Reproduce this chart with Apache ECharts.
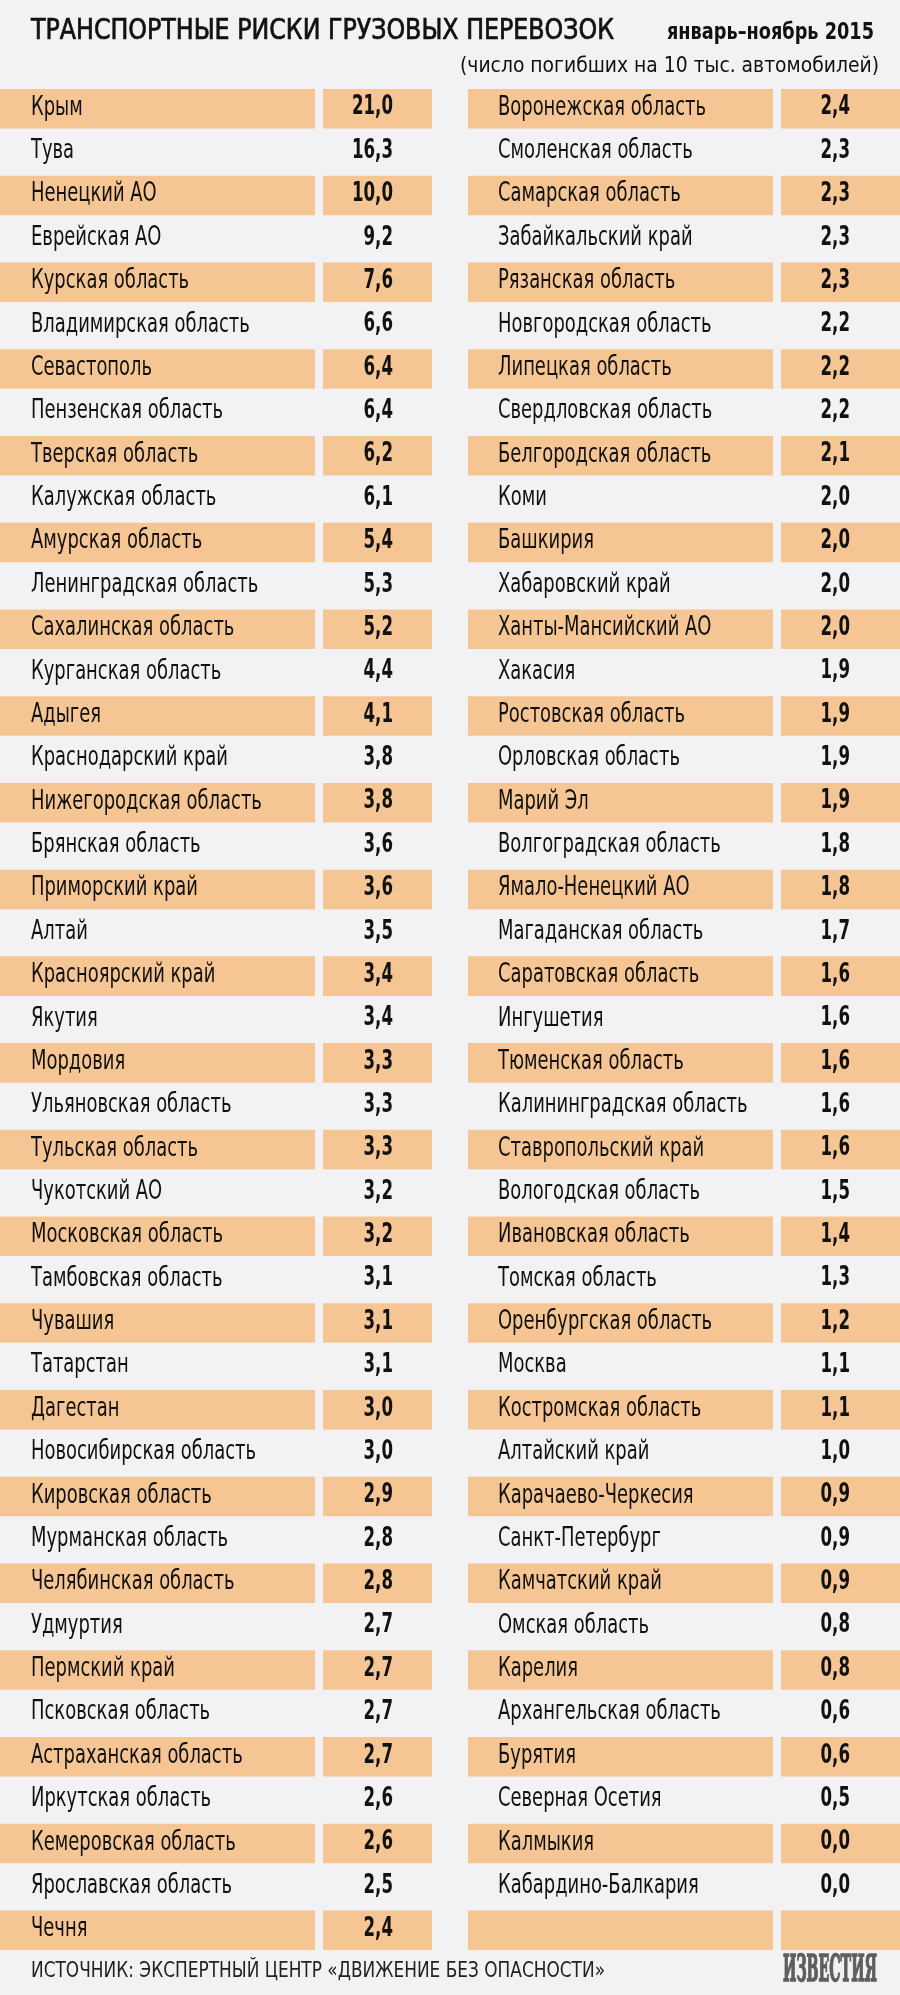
<!DOCTYPE html>
<html><head><meta charset="utf-8">
<script src="https://cdn.jsdelivr.net/npm/echarts@6/dist/echarts.min.js"></script>
<style>html,body{margin:0;padding:0;background:#f2f2f4}#c{width:900px;height:1995px}</style>
</head><body><div id="c"></div>
<script>
const leftNames = ['Крым','Тува','Ненецкий АО','Еврейская АО','Курская область','Владимирская область','Севастополь','Пензенская область','Тверская область','Калужская область','Амурская область','Ленинградская область','Сахалинская область','Курганская область','Адыгея','Краснодарский край','Нижегородская область','Брянская область','Приморский край','Алтай','Красноярский край','Якутия','Мордовия','Ульяновская область','Тульская область','Чукотский АО','Московская область','Тамбовская область','Чувашия','Татарстан','Дагестан','Новосибирская область','Кировская область','Мурманская область','Челябинская область','Удмуртия','Пермский край','Псковская область','Астраханская область','Иркутская область','Кемеровская область','Ярославская область','Чечня'];
const leftValues = [21.0,16.3,10.0,9.2,7.6,6.6,6.4,6.4,6.2,6.1,5.4,5.3,5.2,4.4,4.1,3.8,3.8,3.6,3.6,3.5,3.4,3.4,3.3,3.3,3.3,3.2,3.2,3.1,3.1,3.1,3.0,3.0,2.9,2.8,2.8,2.7,2.7,2.7,2.7,2.6,2.6,2.5,2.4];
const rightNames = ['Воронежская область','Смоленская область','Самарская область','Забайкальский край','Рязанская область','Новгородская область','Липецкая область','Свердловская область','Белгородская область','Коми','Башкирия','Хабаровский край','Ханты-Мансийский АО','Хакасия','Ростовская область','Орловская область','Марий Эл','Волгоградская область','Ямало-Ненецкий АО','Магаданская область','Саратовская область','Ингушетия','Тюменская область','Калининградская область','Ставропольский край','Вологодская область','Ивановская область','Томская область','Оренбургская область','Москва','Костромская область','Алтайский край','Карачаево-Черкесия','Санкт-Петербург','Камчатский край','Омская область','Карелия','Архангельская область','Бурятия','Северная Осетия','Калмыкия','Кабардино-Балкария'];
const rightValues = [2.4,2.3,2.3,2.3,2.3,2.2,2.2,2.2,2.1,2.0,2.0,2.0,2.0,1.9,1.9,1.9,1.9,1.8,1.8,1.7,1.6,1.6,1.6,1.6,1.6,1.5,1.4,1.3,1.2,1.1,1.1,1.0,0.9,0.9,0.9,0.8,0.8,0.6,0.6,0.5,0.0,0.0];
const titleText = 'ТРАНСПОРТНЫЕ РИСКИ ГРУЗОВЫХ ПЕРЕВОЗОК';
const periodText = 'январь–ноябрь 2015';
const unitText = '(число погибших на 10 тыс. автомобилей)';
const sourceText = 'ИСТОЧНИК: ЭКСПЕРТНЫЙ ЦЕНТР «ДВИЖЕНИЕ БЕЗ ОПАСНОСТИ»';
const logoText = 'ИЗВЕСТИЯ';

const ROWS = Math.max(leftNames.length, rightNames.length + 1);
const rowIdx = Array.from({length: ROWS}, (_, i) => String(i));
const fmt = v => (v === null || v === undefined) ? '' : v.toFixed(1).replace('.', ',');
const rows = rowIdx.map((r, i) => [i,
  leftNames[i] || '', i < leftValues.length ? leftValues[i] : null,
  rightNames[i] || '', i < rightValues.length ? rightValues[i] : null]);

const FONT = '"DejaVu Sans Condensed", "DejaVu Sans", sans-serif';
const LOGOFONT = '"DejaVu Serif Condensed", "DejaVu Serif", serif';
const ORANGE = '#f5c693';
const INK = '#111111';

// horizontal condensing: fit sample strings to the widths measured in the reference
const mctx = document.createElement('canvas').getContext('2d');
function fit(text, weight, size, family, target) {
  mctx.font = weight + ' ' + size + 'px ' + family;
  return target / mctx.measureText(text).width;
}
const NAME_SIZE = 27, VAL_SIZE = 26;
const nameScale = fit('Воронежская область', 'normal', NAME_SIZE, FONT, 208);
const valScale = fit('21,0', 'bold', VAL_SIZE, FONT, 41);

// column layout (x in axis units = px)
const COLS = [
  {nameBox:[0,315], valBox:[323,432], nameX:31, valX:393, ni:1, vi:2},
  {nameBox:[468,773], valBox:[781,900], nameX:498, valX:850, ni:3, vi:4}
];

function renderItem(params, api) {
  const i = api.value(0);
  const yc = api.coord([0, i])[1];
  const band = api.size([0, 1])[1];
  const h = band * 0.911;
  const y0 = yc - h / 2;
  const striped = i % 2 === 0;
  const children = [];
  COLS.forEach(c => {
    const x = v => api.coord([v, i])[0];
    if (striped) {
      children.push({type:'rect', shape:{x:x(c.nameBox[0]), y:y0, width:x(c.nameBox[1])-x(c.nameBox[0]), height:h}, style:{fill:ORANGE}});
      children.push({type:'rect', shape:{x:x(c.valBox[0]), y:y0, width:x(c.valBox[1])-x(c.valBox[0]), height:h}, style:{fill:ORANGE}});
    }
    const nm = rows[i][c.ni];
    const vv = rows[i][c.vi];
    if (nm) children.push({type:'text', x:x(c.nameX), y:yc - 1, scaleX:nameScale,
      style:{text:nm, x:0, y:0, align:'left', verticalAlign:'middle', fontFamily:FONT, fontSize:NAME_SIZE, fill:INK}});
    if (vv !== null) children.push({type:'text', x:x(c.valX), y:yc - 1, scaleX:valScale,
      style:{text:fmt(vv), x:0, y:0, align:'right', verticalAlign:'middle', fontFamily:FONT, fontSize:VAL_SIZE, fontWeight:'bold', fill:INK}});
  });
  return {type:'group', children};
}

function label(text, x, y, align, size, weight, family, color, targetW, strokeW) {
  const st = {text, x:0, y:0, align, verticalAlign:'middle', fontFamily:family, fontSize:size, fontWeight:weight, fill:color};
  if (strokeW) { st.stroke = color; st.lineWidth = strokeW; }
  return {type:'text', x, y, scaleX: fit(text, weight, size, family, targetW), style: st};
}

const chart = echarts.init(document.getElementById('c'), null, {renderer:'canvas'});
chart.setOption({
  backgroundColor: '#f2f2f4',
  animation: false,
  grid: {left:0, right:0, top:87, height:1865},
  xAxis: {type:'value', min:0, max:900, show:false},
  yAxis: {type:'category', data: rowIdx, inverse:true, show:false},
  graphic: [
    label(titleText, 31, 32, 'left', 28, 'normal', FONT, INK, 583, 0.7),
    label(periodText, 874, 33, 'right', 23, 'bold', FONT, INK, 207),
    label(unitText, 879, 66, 'right', 22, 'normal', FONT, INK, 419),
    label(sourceText, 31, 1971, 'left', 22, 'normal', FONT, '#222222', 574),
    label(logoText, 877, 1971, 'right', 38, 'bold', LOGOFONT, '#5e5e5e', 94, 1.6)
  ],
  series: [{type:'custom', renderItem, data: rows, encode:{x:-1, y:0}}]
});
</script></body></html>
